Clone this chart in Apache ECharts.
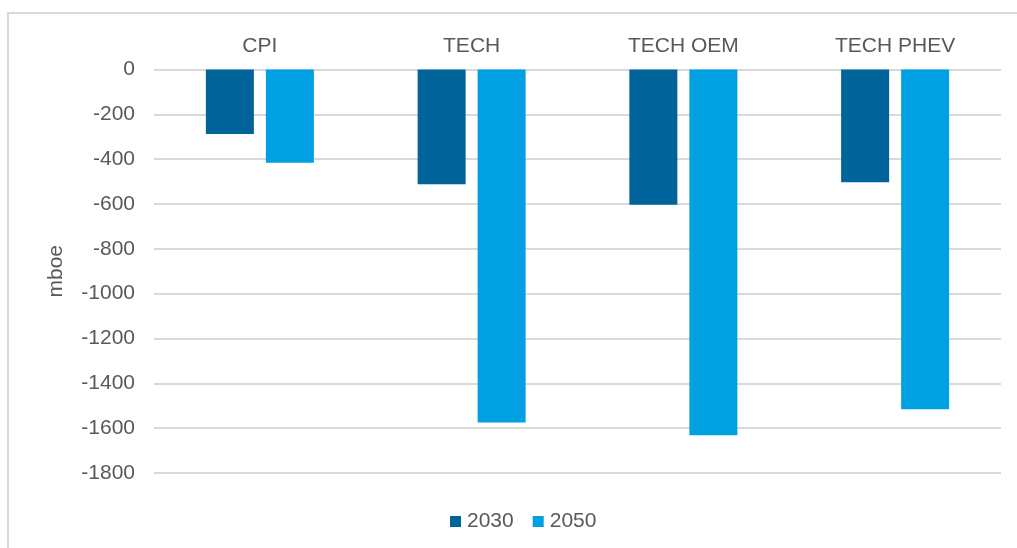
<!DOCTYPE html>
<html>
<head>
<meta charset="utf-8">
<style>
  html, body { margin: 0; padding: 0; background: #ffffff; }
  #chart { width: 1017px; height: 548px; }
</style>
<script src="https://cdn.jsdelivr.net/npm/echarts@6/dist/echarts.min.js"></script>
</head>
<body>
<div id="chart"></div>
<script>
// Scenarios along the top axis
const categories = ['CPI', 'TECH', 'TECH OEM', 'TECH PHEV'];
// Change in oil demand (mboe) by scenario
const values2030 = [-288, -512, -603, -503];
const values2050 = [-416, -1575, -1632, -1516];
const seriesNames = ['2030', '2050'];

const textColor = '#595959';
const fontFamily = '"Liberation Sans", Arial, sans-serif';

const chart = echarts.init(document.getElementById('chart'));
chart.setOption({
  animation: false,
  backgroundColor: '#ffffff',
  textStyle: { fontFamily: fontFamily },
  graphic: [{
    type: 'rect',
    silent: true,
    shape: { x: 8, y: 13, width: 1200, height: 700 },
    style: { fill: 'none', stroke: '#d9d9d9', lineWidth: 2 }
  }],
  grid: { left: 154, right: 16, top: 69.5, bottom: 75 },
  legend: {
    data: seriesNames,
    left: 445,
    top: 506,
    itemWidth: 11,
    itemHeight: 11,
    itemGap: 19,
    icon: 'rect',
    textStyle: { color: textColor, fontSize: 21, fontFamily: fontFamily, padding: [0, 0, 0, 1] }
  },
  xAxis: {
    type: 'category',
    position: 'top',
    data: categories,
    axisLine: { show: false },
    axisTick: { show: false },
    axisLabel: { color: textColor, fontSize: 21, margin: 13, fontFamily: fontFamily }
  },
  yAxis: {
    type: 'value',
    min: -1800,
    max: 0,
    interval: 200,
    name: 'mboe',
    nameLocation: 'middle',
    nameGap: 87,
    nameTextStyle: { color: textColor, fontSize: 21, fontFamily: fontFamily },
    axisLine: { show: false },
    axisTick: { show: false },
    axisLabel: {
      color: textColor,
      fontSize: 21,
      margin: 19,
      fontFamily: fontFamily,
      formatter: function (v) { return String(v); }
    },
    splitLine: { lineStyle: { color: '#d9d9d9', width: 2 } }
  },
  series: [
    {
      name: seriesNames[0],
      type: 'bar',
      data: values2030,
      barWidth: 48,
      barGap: '25%',
      itemStyle: { color: '#006399' }
    },
    {
      name: seriesNames[1],
      type: 'bar',
      data: values2050,
      barWidth: 48,
      barGap: '25%',
      itemStyle: { color: '#00a0e3' }
    }
  ]
});
</script>
</body>
</html>
